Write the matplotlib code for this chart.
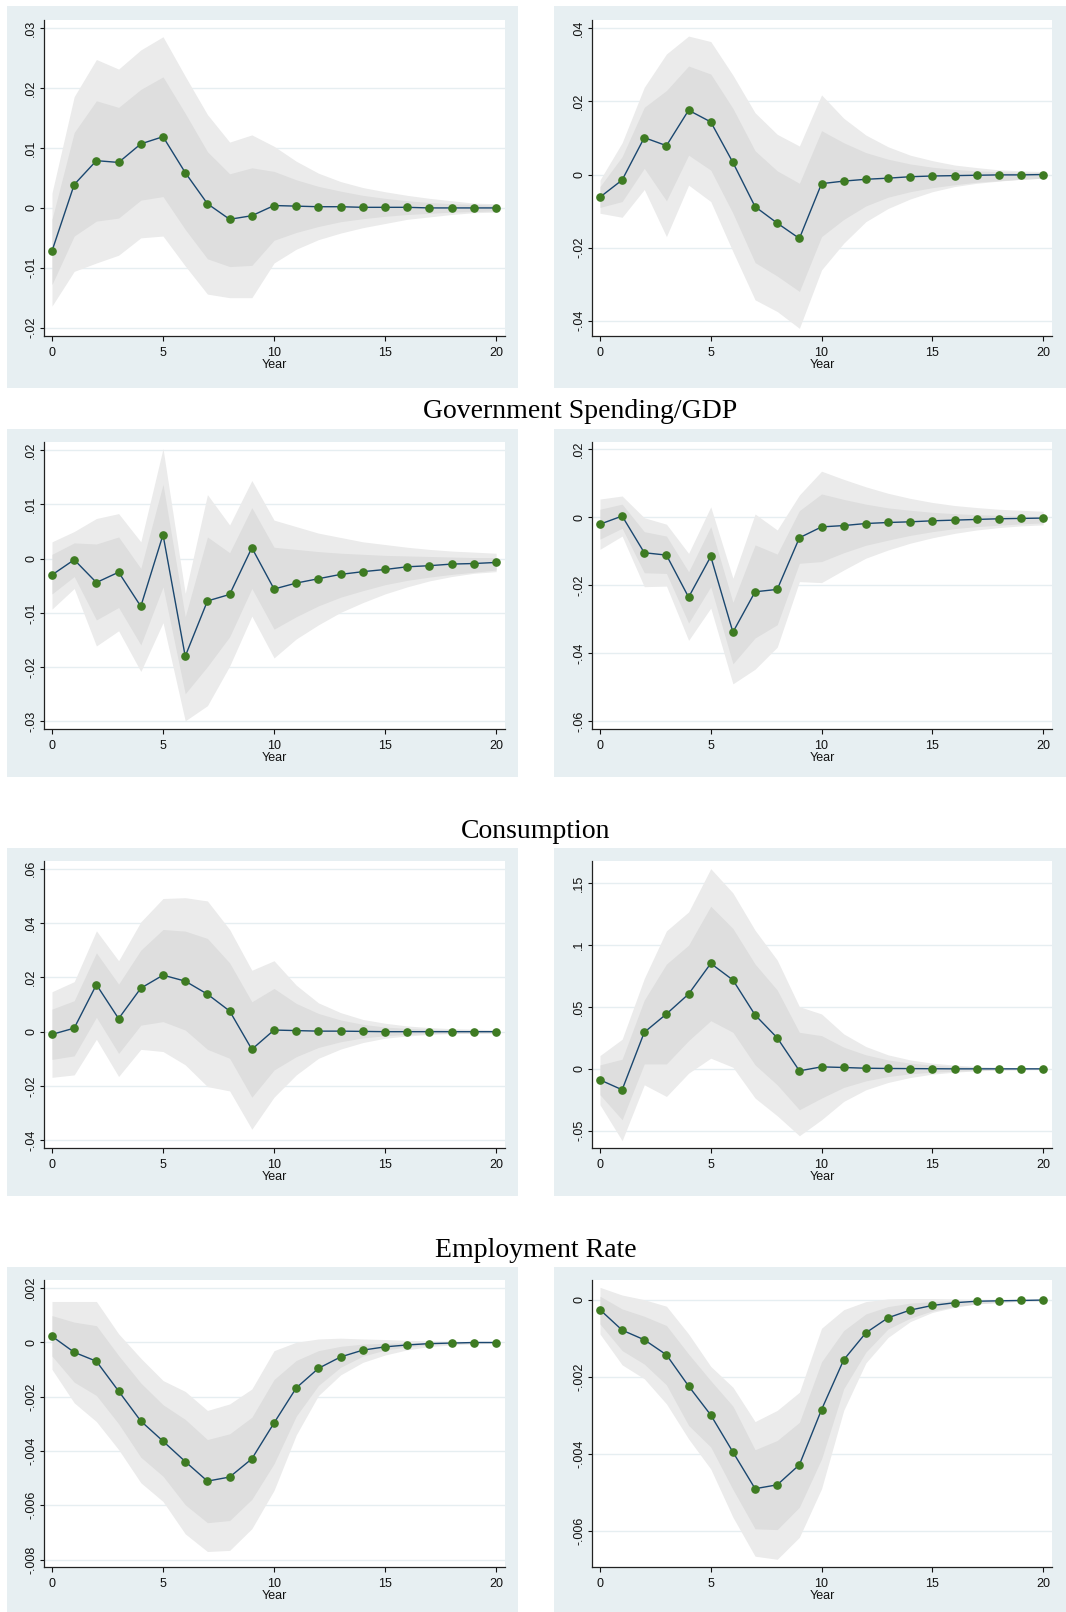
import numpy as np
import matplotlib.pyplot as plt
from matplotlib.patches import Rectangle

plt.rcParams['font.family'] = ['Liberation Sans', 'DejaVu Sans']

years = np.arange(21)
x_ticks = [0, 5, 10, 15, 20]

# ---- top row (no title) ----
top_l_irf = [-0.0072, 0.0039, 0.0079, 0.0076, 0.0107, 0.0119, 0.0059, 0.0007, -0.0019, -0.0013, 0.0004,
             0.0003, 0.0002, 0.0002, 0.0001, 0.0001, 0.0001, 0.0, 0.0, 0.0, 0.0]
top_l_in_hi = [-0.0019, 0.0126, 0.0179, 0.0168, 0.0198, 0.0219, 0.0158, 0.0094, 0.0057, 0.0067, 0.0061,
               0.0047, 0.0036, 0.0028, 0.0021, 0.0016, 0.0012, 0.0009, 0.0007, 0.0006, 0.0004]
top_l_in_lo = [-0.0128, -0.0047, -0.0022, -0.0017, 0.0013, 0.0019, -0.0036, -0.0085, -0.0098, -0.0096, -0.0054,
               -0.0041, -0.0031, -0.0023, -0.0018, -0.0014, -0.0011, -0.0009, -0.0007, -0.0006, -0.0005]
top_l_out_hi = [0.0025, 0.0186, 0.0248, 0.0232, 0.0264, 0.0286, 0.0220, 0.0156, 0.0110, 0.0122, 0.0103,
                0.0078, 0.0058, 0.0044, 0.0034, 0.0027, 0.0021, 0.0016, 0.0012, 0.0008, 0.0007]
top_l_out_lo = [-0.0164, -0.0106, -0.0092, -0.0079, -0.0050, -0.0047, -0.0097, -0.0144, -0.0150, -0.0150, -0.0092,
                -0.0069, -0.0053, -0.0042, -0.0033, -0.0026, -0.0019, -0.0015, -0.0011, -0.0008, -0.0007]
top_l_yticks = [-0.02, -0.01, 0, 0.01, 0.02, 0.03]

top_r_irf = [-0.0062, -0.0015, 0.0101, 0.0079, 0.0176, 0.0144, 0.0033, -0.0088, -0.0133, -0.0175, -0.0025,
             -0.0018, -0.0013, -0.0010, -0.0006, -0.0004, -0.0003, -0.0002, -0.0001, -0.0001, 0.0]
top_r_in_hi = [-0.0033, 0.0049, 0.0184, 0.0230, 0.0297, 0.0275, 0.0181, 0.0065, 0.0010, -0.0024, 0.0120,
               0.0087, 0.0060, 0.0042, 0.0029, 0.0020, 0.0014, 0.0010, 0.0008, 0.0006, 0.0005]
top_r_in_lo = [-0.0090, -0.0074, 0.0017, -0.0072, 0.0053, 0.0012, -0.0106, -0.0241, -0.0278, -0.0320, -0.0170,
               -0.0123, -0.0086, -0.0062, -0.0047, -0.0036, -0.0028, -0.0021, -0.0017, -0.0013, -0.0010]
top_r_out_hi = [-0.0015, 0.0087, 0.0239, 0.0330, 0.0379, 0.0364, 0.0272, 0.0169, 0.0110, 0.0078, 0.0218,
                0.0154, 0.0108, 0.0076, 0.0053, 0.0038, 0.0026, 0.0019, 0.0013, 0.0010, 0.0008]
top_r_out_lo = [-0.0106, -0.0117, -0.0041, -0.0170, -0.0029, -0.0074, -0.0211, -0.0343, -0.0375, -0.0421, -0.0261,
                -0.0188, -0.0129, -0.0093, -0.0067, -0.0047, -0.0033, -0.0024, -0.0018, -0.0013, -0.0010]
top_r_yticks = [-0.04, -0.02, 0, 0.02, 0.04]

# ---- Government Spending/GDP ----
gov_l_irf = [-0.0030, -0.0002, -0.0044, -0.0025, -0.0088, 0.0044, -0.0180, -0.0078, -0.0066, 0.0020, -0.0056,
             -0.0045, -0.0037, -0.0029, -0.0024, -0.0020, -0.0015, -0.0013, -0.0010, -0.0009, -0.0007]
gov_l_in_hi = [0.0008, 0.0029, 0.0027, 0.0040, -0.0018, 0.0137, -0.0107, 0.0040, 0.0011, 0.0094, 0.0021,
               0.0017, 0.0013, 0.0010, 0.0008, 0.0006, 0.0005, 0.0004, 0.0003, 0.0002, 0.0002]
gov_l_in_lo = [-0.0065, -0.0033, -0.0113, -0.0090, -0.0159, -0.0052, -0.0249, -0.0199, -0.0144, -0.0055, -0.0130,
               -0.0107, -0.0087, -0.0071, -0.0059, -0.0048, -0.0040, -0.0034, -0.0029, -0.0025, -0.0021]
gov_l_out_hi = [0.0031, 0.0050, 0.0074, 0.0083, 0.0031, 0.0203, -0.0064, 0.0118, 0.0062, 0.0144, 0.0071,
                0.0059, 0.0047, 0.0039, 0.0031, 0.0026, 0.0021, 0.0017, 0.0014, 0.0012, 0.0010]
gov_l_out_lo = [-0.0093, -0.0055, -0.0161, -0.0133, -0.0208, -0.0118, -0.0299, -0.0271, -0.0198, -0.0106, -0.0183,
                -0.0148, -0.0122, -0.0099, -0.0081, -0.0065, -0.0052, -0.0041, -0.0033, -0.0027, -0.0024]
gov_l_yticks = [-0.03, -0.02, -0.01, 0, 0.01, 0.02]

gov_r_irf = [-0.0020, 0.0004, -0.0104, -0.0111, -0.0235, -0.0115, -0.0338, -0.0219, -0.0212, -0.0060, -0.0028,
             -0.0024, -0.0018, -0.0015, -0.0013, -0.0010, -0.0008, -0.0006, -0.0004, -0.0003, -0.0002]
gov_r_in_hi = [0.0024, 0.0039, -0.0042, -0.0055, -0.0160, -0.0027, -0.0250, -0.0081, -0.0108, 0.0020, 0.0069,
               0.0053, 0.0039, 0.0028, 0.0021, 0.0015, 0.0011, 0.0008, 0.0006, 0.0004, 0.0003]
gov_r_in_lo = [-0.0064, -0.0032, -0.0163, -0.0165, -0.0311, -0.0204, -0.0431, -0.0355, -0.0316, -0.0135, -0.0130,
               -0.0104, -0.0082, -0.0067, -0.0053, -0.0042, -0.0033, -0.0027, -0.0023, -0.0019, -0.0016]
gov_r_out_hi = [0.0054, 0.0063, -0.0001, -0.0020, -0.0106, 0.0031, -0.0179, 0.0010, -0.0037, 0.0066, 0.0136,
                0.0112, 0.0090, 0.0071, 0.0056, 0.0044, 0.0035, 0.0029, 0.0024, 0.0021, 0.0018]
gov_r_out_lo = [-0.0094, -0.0055, -0.0204, -0.0202, -0.0362, -0.0267, -0.0490, -0.0447, -0.0382, -0.0189, -0.0192,
                -0.0155, -0.0120, -0.0096, -0.0076, -0.0060, -0.0047, -0.0037, -0.0030, -0.0025, -0.0022]
gov_r_yticks = [-0.06, -0.04, -0.02, 0, 0.02]

# ---- Consumption ----
cons_l_irf = [-0.0010, 0.0013, 0.0173, 0.0048, 0.0160, 0.0208, 0.0186, 0.0138, 0.0076, -0.0065, 0.0006,
              0.0004, 0.0002, 0.0002, 0.0001, 0.0, 0.0, 0.0, 0.0, 0.0, 0.0]
cons_l_in_hi = [0.0083, 0.0114, 0.0290, 0.0175, 0.0300, 0.0376, 0.0370, 0.0343, 0.0253, 0.0110, 0.0159,
                0.0104, 0.0067, 0.0043, 0.0027, 0.0017, 0.0012, 0.0009, 0.0006, 0.0005, 0.0004]
cons_l_in_lo = [-0.0102, -0.0089, 0.0053, -0.0080, 0.0024, 0.0037, 0.0006, -0.0065, -0.0098, -0.0241, -0.0141,
                -0.0092, -0.0058, -0.0037, -0.0023, -0.0015, -0.0010, -0.0007, -0.0006, -0.0005, -0.0004]
cons_l_out_hi = [0.0147, 0.0184, 0.0371, 0.0261, 0.0404, 0.0490, 0.0493, 0.0481, 0.0376, 0.0226, 0.0261,
                 0.0171, 0.0106, 0.0070, 0.0045, 0.0031, 0.0021, 0.0015, 0.0011, 0.0009, 0.0007]
cons_l_out_lo = [-0.0168, -0.0159, -0.0028, -0.0165, -0.0065, -0.0073, -0.0122, -0.0202, -0.0218, -0.0359, -0.0241,
                 -0.0159, -0.0098, -0.0064, -0.0040, -0.0024, -0.0016, -0.0010, -0.0007, -0.0006, -0.0005]
cons_l_yticks = [-0.04, -0.02, 0, 0.02, 0.04, 0.06]

cons_r_irf = [-0.0089, -0.0169, 0.0295, 0.0443, 0.0604, 0.0851, 0.0717, 0.0435, 0.0250, -0.0016, 0.0016,
              0.0011, 0.0005, 0.0003, 0.0002, 0.0001, 0.0, 0.0, 0.0, 0.0, 0.0]
cons_r_in_hi = [0.0032, 0.0078, 0.0556, 0.0846, 0.0999, 0.1313, 0.1133, 0.0846, 0.0636, 0.0295, 0.0268,
                0.0175, 0.0113, 0.0072, 0.0046, 0.0030, 0.0019, 0.0013, 0.0008, 0.0005, 0.0003]
cons_r_in_lo = [-0.0209, -0.0411, 0.0040, 0.0040, 0.0228, 0.0389, 0.0295, 0.0032, -0.0129, -0.0330, -0.0236,
                -0.0150, -0.0097, -0.0062, -0.0040, -0.0027, -0.0019, -0.0013, -0.0008, -0.0005, -0.0003]
cons_r_out_hi = [0.0107, 0.0239, 0.0730, 0.1114, 0.1267, 0.1616, 0.1420, 0.1119, 0.0878, 0.0502, 0.0443,
                 0.0282, 0.0180, 0.0113, 0.0072, 0.0046, 0.0030, 0.0019, 0.0013, 0.0008, 0.0005]
cons_r_out_lo = [-0.0290, -0.0580, -0.0129, -0.0223, -0.0035, 0.0086, 0.0013, -0.0236, -0.0379, -0.0540, -0.0411,
                 -0.0263, -0.0169, -0.0110, -0.0070, -0.0043, -0.0027, -0.0016, -0.0011, -0.0008, -0.0005]
cons_r_yticks = [-0.05, 0, 0.05, 0.1, 0.15]

# ---- Employment Rate ----
emp_l_irf = [0.00022, -0.00037, -0.00070, -0.00180, -0.00290, -0.00364, -0.00439, -0.00511, -0.00496, -0.00429,
             -0.00297, -0.00168, -0.00096, -0.00054, -0.00029, -0.00017, -0.00010, -0.00005, -0.00003, -0.00001,
             -0.00001]
emp_l_in_hi = [0.00098, 0.00074, 0.00061, -0.00049, -0.00150, -0.00230, -0.00284, -0.00358, -0.00337, -0.00276,
               -0.00137, -0.00067, -0.00031, -0.00015, -0.00007, -0.00004, -0.00002, -0.00001, 0.0, 0.0, 0.0]
emp_l_in_lo = [-0.00051, -0.00147, -0.00196, -0.00300, -0.00423, -0.00493, -0.00598, -0.00664, -0.00656, -0.00578,
               -0.00447, -0.00272, -0.00159, -0.00092, -0.00051, -0.00029, -0.00017, -0.00010, -0.00006, -0.00004,
               -0.00002]
emp_l_out_hi = [0.00150, 0.00150, 0.00150, 0.00031, -0.00059, -0.00141, -0.00181, -0.00251, -0.00227, -0.00172,
                -0.00031, 0.0, 0.00012, 0.00015, 0.00012, 0.00010, 0.00007, 0.00005, 0.00004, 0.00002, 0.00001]
emp_l_out_lo = [-0.00100, -0.00223, -0.00292, -0.00395, -0.00517, -0.00586, -0.00705, -0.00770, -0.00766, -0.00686,
                -0.00545, -0.00341, -0.00196, -0.00120, -0.00074, -0.00047, -0.00028, -0.00016, -0.00010, -0.00006,
                -0.00004]
emp_l_yticks = [-0.008, -0.006, -0.004, -0.002, 0, 0.002]

emp_r_irf = [-0.00026, -0.00079, -0.00104, -0.00143, -0.00224, -0.00299, -0.00395, -0.00490, -0.00480, -0.00428,
             -0.00285, -0.00156, -0.00086, -0.00047, -0.00027, -0.00015, -0.00008, -0.00004, -0.00003, -0.00002,
             -0.00001]
emp_r_in_hi = [0.00009, -0.00024, -0.00043, -0.00067, -0.00141, -0.00210, -0.00276, -0.00389, -0.00365, -0.00318,
               -0.00161, -0.00080, -0.00037, -0.00018, -0.00009, -0.00005, -0.00003, -0.00002, -0.00001, -0.00001,
               0.0]
emp_r_in_lo = [-0.00063, -0.00132, -0.00167, -0.00221, -0.00326, -0.00382, -0.00492, -0.00594, -0.00596, -0.00538,
               -0.00413, -0.00231, -0.00136, -0.00076, -0.00048, -0.00029, -0.00018, -0.00011, -0.00007, -0.00004,
               -0.00003]
emp_r_out_hi = [0.00032, 0.00012, 0.0, -0.00017, -0.00089, -0.00173, -0.00227, -0.00316, -0.00287, -0.00240,
                -0.00074, -0.00026, -0.00005, 0.00002, 0.00003, 0.00003, 0.00002, 0.00001, 0.00001, 0.00001, 0.00001]
emp_r_out_lo = [-0.00089, -0.00169, -0.00205, -0.00270, -0.00361, -0.00439, -0.00564, -0.00665, -0.00673, -0.00616,
                -0.00490, -0.00287, -0.00164, -0.00098, -0.00057, -0.00033, -0.00020, -0.00011, -0.00007, -0.00004,
                -0.00003]
emp_r_yticks = [-0.006, -0.004, -0.002, 0]

row_titles = ["", "Government Spending/GDP", "Consumption", "Employment Rate"]

# colours (Stata s2color look)
BOX = '#e7eff2'
GRID = '#e6eef1'
OUTER = '#ebebeb'
INNER = '#dedede'
NAVY = '#1a476f'
GREEN = '#3e7b22'

W, H = 1066, 1612
fig = plt.figure(figsize=(W / 100, H / 100), dpi=100)


def fig_rect(x0, y0, x1, y1):
    # pixel box (top-left origin) -> figure fraction
    return [x0 / W, 1 - y1 / H, (x1 - x0) / W, (y1 - y0) / H]


def stata_label(v):
    s = f"{v:.3f}".rstrip('0').rstrip('.')
    if s in ('', '-0'):
        s = '0'
    if s.startswith('0.'):
        s = s[1:]
    elif s.startswith('-0.'):
        s = '-' + s[2:]
    return s


def draw_irf(ax, irf, in_lo, in_hi, out_lo, out_hi, ylim, yticks):
    ax.fill_between(years, out_lo, out_hi, color=OUTER, lw=0, zorder=1)
    ax.fill_between(years, in_lo, in_hi, color=INNER, lw=0, zorder=2)
    ax.plot(years, irf, color=NAVY, lw=1.0, marker='o', ms=5.2,
            mfc=GREEN, mec=GREEN, zorder=3)
    ax.set_xlim(-0.36, 20.4)
    ax.set_ylim(ylim)
    ax.set_xticks(x_ticks)
    ax.set_yticks(yticks)
    ax.set_yticklabels([stata_label(v) for v in yticks], rotation=90, va='center')
    ax.grid(axis='y', color=GRID, lw=1.0)
    ax.set_axisbelow(True)
    for side in ('top', 'right'):
        ax.spines[side].set_visible(False)
    for side in ('left', 'bottom'):
        ax.spines[side].set_linewidth(0.9)
        ax.spines[side].set_color('#222222')
    ax.tick_params(length=3, width=0.8, labelsize=9, colors='#111111')
    ax.tick_params(axis='x', length=3.5, pad=4.5)
    ax.tick_params(axis='y', pad=2)
    ax.set_xlabel('Year', fontsize=9, labelpad=0, color='#111111')


# light panel backgrounds
box_rows = [(6, 388), (429, 777), (848, 1196), (1267, 1612)]
box_cols = [(7, 518), (554, 1066)]
for y0, y1 in box_rows:
    for x0, x1 in box_cols:
        fig.add_artist(Rectangle((x0 / W, 1 - y1 / H), (x1 - x0) / W, (y1 - y0) / H,
                                 transform=fig.transFigure, facecolor=BOX,
                                 edgecolor='none', zorder=-5))

plot_rows = [(20, 336), (442, 729), (861, 1148), (1280, 1567)]
plot_cols = [(44, 505), (592, 1052)]

panels = [
    [(top_l_irf, top_l_in_lo, top_l_in_hi, top_l_out_lo, top_l_out_hi, (-0.0214, 0.0314), top_l_yticks),
     (top_r_irf, top_r_in_lo, top_r_in_hi, top_r_out_lo, top_r_out_hi, (-0.0442, 0.0423), top_r_yticks)],
    [(gov_l_irf, gov_l_in_lo, gov_l_in_hi, gov_l_out_lo, gov_l_out_hi, (-0.0314, 0.0215), gov_l_yticks),
     (gov_r_irf, gov_r_in_lo, gov_r_in_hi, gov_r_out_lo, gov_r_out_hi, (-0.0623, 0.0222), gov_r_yticks)],
    [(cons_l_irf, cons_l_in_lo, cons_l_in_hi, cons_l_out_lo, cons_l_out_hi, (-0.0428, 0.0628), cons_l_yticks),
     (cons_r_irf, cons_r_in_lo, cons_r_in_hi, cons_r_out_lo, cons_r_out_hi, (-0.0639, 0.1678), cons_r_yticks)],
    [(emp_l_irf, emp_l_in_lo, emp_l_in_hi, emp_l_out_lo, emp_l_out_hi, (-0.00827, 0.00229), emp_l_yticks),
     (emp_r_irf, emp_r_in_lo, emp_r_in_hi, emp_r_out_lo, emp_r_out_hi, (-0.00693, 0.00051), emp_r_yticks)],
]

for r, (y0, y1) in enumerate(plot_rows):
    for c, (x0, x1) in enumerate(plot_cols):
        ax = fig.add_axes(fig_rect(x0, y0, x1, y1))
        draw_irf(ax, *panels[r][c])

# row headings between the panel rows
title_pos = {1: (580, 418), 2: (536, 838), 3: (536, 1257)}
for r, (tx, ty) in title_pos.items():
    fig.text(tx / W, 1 - ty / H, row_titles[r], ha='center', va='baseline',
             fontsize=20, family=['Liberation Serif', 'DejaVu Serif'], color='black')

fig.savefig('out.png', dpi=100)
